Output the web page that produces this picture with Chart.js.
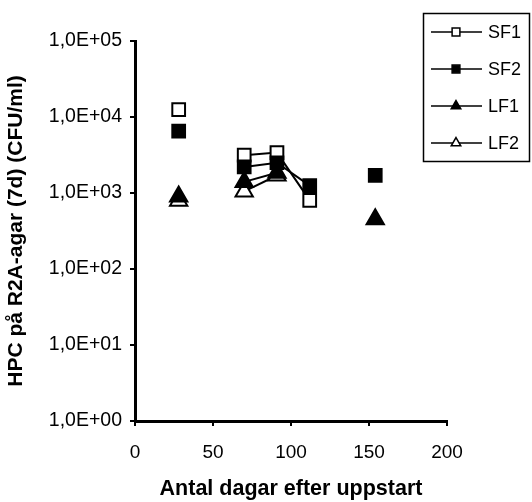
<!DOCTYPE html>
<html>
<head>
<meta charset="utf-8">
<script src="https://cdn.jsdelivr.net/npm/chart.js@4/dist/chart.umd.min.js"></script>
<style>
  body { margin: 0; background: #fff; }
  #wrap { width: 532px; height: 502px; }
</style>
</head>
<body>
<div id="wrap"><canvas id="hpc" width="532" height="502"></canvas></div>
<script>
var DAYS = [28, 49, 70, 91, 112, 133, 154];
var SF1 = [12500, null, 3150, 3400, 800, null, null];
var SF2 = [6500, null, 2200, 2500, 1250, null, 1700];
var LF1 = [900, null, 1400, 1850, null, null, 450];
var LF2 = [790, null, 1050, 1700, null, null, null];
var Y_TICKS = [1, 10, 100, 1000, 10000, 100000];
var X_TICKS = [0, 50, 100, 150, 200];

function pts(vals) {
    return DAYS.map(function(d, i) {
        return { x: d, y: vals[i] };
    });
}

function sci(v) {
    var e = Math.round(Math.log10(v));
    return '1,0E+' + (e < 10 ? '0' : '') + e;
}

// legend drawn as a box in the top right corner, like the original
var boxLegend = {
    id: 'boxLegend',
    afterDraw: function(chart) {
        var ctx = chart.ctx;
        ctx.save();
        ctx.strokeStyle = '#000';
        ctx.lineWidth = 1.5;
        ctx.strokeRect(423.5, 13.5, 106, 148);
        var rows = [32, 69, 106, 143];
        var names = ['SF1', 'SF2', 'LF1', 'LF2'];
        names.forEach(function(name, i) {
            var ds = chart.data.datasets.filter(function(d) { return d.label === name; })[0];
            var y = rows[i];
            ctx.beginPath();
            ctx.strokeStyle = '#000';
            ctx.lineWidth = 1.5;
            ctx.moveTo(431, y);
            ctx.lineTo(482, y);
            ctx.stroke();
            ctx.fillStyle = ds.pointBackgroundColor;
            ctx.strokeStyle = '#000';
            ctx.lineWidth = 1.5;
            Chart.helpers.drawPoint(ctx, { pointStyle: ds.pointStyle, rotation: 0, borderWidth: 1.5, radius: 5.5 }, 456, y);
            ctx.fillStyle = '#000';
            ctx.font = '18px "Liberation Sans", Arial, sans-serif';
            ctx.textBaseline = 'middle';
            ctx.textAlign = 'left';
            ctx.fillText(name, 488, y + 1);
        });
        ctx.restore();
    }
};

function series(label, vals, style, fill, order) {
    var r = style === 'triangle' ? 10 : 9;
    return {
        label: label,
        data: pts(vals),
        showLine: true,
        spanGaps: false,
        borderColor: '#000',
        borderWidth: 2,
        pointStyle: style,
        pointRadius: r,
        pointHoverRadius: r,
        pointBackgroundColor: fill,
        pointBorderColor: '#000',
        pointBorderWidth: 2,
        order: order
    };
}

window.onload = function() {
    var ctx = document.getElementById('hpc').getContext('2d');
    window.hpcChart = new Chart(ctx, {
        type: 'scatter',
        data: {
            datasets: [
                series('SF1', SF1, 'rect', '#fff', 4),
                series('LF2', LF2, 'triangle', '#fff', 3),
                series('SF2', SF2, 'rect', '#000', 2),
                series('LF1', LF1, 'triangle', '#000', 1)
            ]
        },
        options: {
            responsive: false,
            animation: false,
            layout: { padding: { top: 41, right: 85, bottom: 0, left: 0 } },
            plugins: {
                legend: { display: false },
                tooltip: { enabled: false }
            },
            scales: {
                x: {
                    type: 'linear',
                    min: 0,
                    max: 200,
                    afterBuildTicks: function(scale) {
                        scale.ticks = X_TICKS.map(function(v) { return { value: v }; });
                    },
                    afterFit: function(scale) { scale.height = 81; },
                    border: { display: true, color: '#000', width: 3 },
                    grid: { drawOnChartArea: false, drawTicks: true, tickLength: 5, color: '#000', lineWidth: 2 },
                    ticks: {
                        color: '#000',
                        padding: 15,
                        maxRotation: 0,
                        font: { family: '"Liberation Sans", Arial, sans-serif', size: 19 }
                    },
                    title: {
                        display: true,
                        text: 'Antal dagar efter uppstart',
                        color: '#000',
                        padding: { top: 0, bottom: 0 },
                        font: { family: '"Liberation Sans", Arial, sans-serif', size: 21.5, weight: 'bold' }
                    }
                },
                y: {
                    type: 'logarithmic',
                    min: 1,
                    max: 100000,
                    afterBuildTicks: function(scale) {
                        scale.ticks = Y_TICKS.map(function(v) { return { value: v, major: true }; });
                    },
                    afterFit: function(scale) { scale.width = 135; },
                    border: { display: true, color: '#000', width: 3 },
                    grid: { drawOnChartArea: false, drawTicks: true, tickLength: 5, color: '#000', lineWidth: 2 },
                    ticks: {
                        color: '#000',
                        padding: 8,
                        callback: function(v) { return sci(v); },
                        font: { family: '"Liberation Sans", Arial, sans-serif', size: 19.5 }
                    },
                    title: {
                        display: true,
                        text: 'HPC på R2A-agar (7d) (CFU/ml)',
                        color: '#000',
                        padding: { top: 4, bottom: 0 },
                        font: { family: '"Liberation Sans", Arial, sans-serif', size: 21, weight: 'bold' }
                    }
                }
            }
        },
        plugins: [boxLegend]
    });
};
</script>
</body>
</html>
